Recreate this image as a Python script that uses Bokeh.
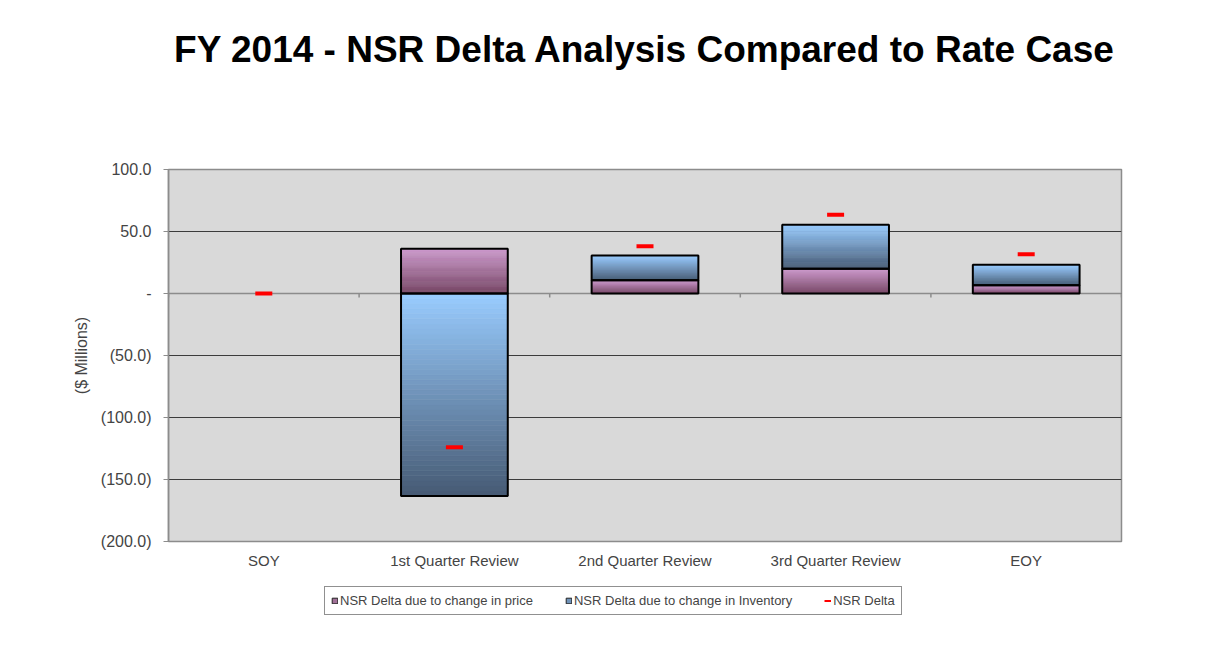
import math
from bokeh.plotting import figure
from bokeh.layouts import column
from bokeh.models import (ColumnDataSource, Range1d, FixedTicker, Span, Label,
                          Legend, LegendItem)
from bokeh.embed import file_html
from bokeh.resources import INLINE

# ---------------- data ----------------
categories = ["SOY", "1st Quarter Review", "2nd Quarter Review", "3rd Quarter Review", "EOY"]
price_delta = [0.0, 36.0, 10.7, 19.9, 6.7]
inventory_delta = [0.0, -163.4, 19.9, 35.5, 16.4]
nsr_delta = [0.0, -124.0, 38.2, 63.5, 31.7]

y_ticks = [-200, -150, -100, -50, 0, 50, 100]
y_tick_labels = ["(200.0)", "(150.0)", "(100.0)", "(50.0)", "-", "50.0", "100.0"]

title_text = "FY 2014 - NSR Delta Analysis Compared to Rate Case"
y_label = "($ Millions)"
series_names = ["NSR Delta due to change in price",
                "NSR Delta due to change in Inventory",
                "NSR Delta"]

# ---------------- style ----------------
FONT = "Liberation Sans"
BAR_WIDTH = 0.56
STEPS = 40
PRICE_TOP, PRICE_BOTTOM = (204, 153, 204), (118, 70, 100)
INV_TOP, INV_BOTTOM = (153, 204, 255), (70, 90, 115)
W = 1201
HEAD_H, MAIN_H, LEG_H = 98, 477, 76

n_cat = len(categories)
cat_pos = [i + 0.5 for i in range(n_cat)]          # category centres on the axis scale
edge_pos = [float(i) for i in range(n_cat + 1)]    # category boundaries


def hexcol(c):
    return "#%02x%02x%02x" % tuple(int(round(v)) for v in c)


def mix(bottom, top, t):
    return tuple(b + (tp - b) * t for b, tp in zip(bottom, top))


def blank_fig(h):
    f = figure(width=W, height=h, x_range=Range1d(0, 1), y_range=Range1d(0, 1),
               output_backend="svg", toolbar_location=None,
               x_axis_location=None, y_axis_location=None,
               min_border=0, min_border_left=0, min_border_right=0,
               min_border_top=0, min_border_bottom=0,
               background_fill_color="white", border_fill_color="white")
    f.outline_line_color = None
    f.grid.visible = False
    return f


# ---------------- title strip ----------------
head = blank_fig(HEAD_H)
head.add_layout(Label(x=0.5, y=0.5, text=title_text, text_align="center",
                      text_baseline="middle", text_font=FONT, text_font_size="37px",
                      text_font_style="bold", text_color="black"))

# ---------------- main chart ----------------
seg_x, seg_lo, seg_hi, seg_kind = [], [], [], []
for xc, pv, iv in zip(cat_pos, price_delta, inventory_delta):
    if pv != 0:
        seg_x.append(xc); seg_lo.append(min(0, pv)); seg_hi.append(max(0, pv)); seg_kind.append("price")
    if iv != 0:
        base = pv if (pv > 0 and iv > 0) or (pv < 0 and iv < 0) else 0.0
        end = base + iv
        seg_x.append(xc); seg_lo.append(min(base, end)); seg_hi.append(max(base, end)); seg_kind.append("inv")

strip = dict(x=[], bottom=[], top=[], color=[])
for xc, lo, hi, kind in zip(seg_x, seg_lo, seg_hi, seg_kind):
    top_c, bot_c = (PRICE_TOP, PRICE_BOTTOM) if kind == "price" else (INV_TOP, INV_BOTTOM)
    for k in range(STEPS):
        b = lo + (hi - lo) * k / STEPS
        t = lo + (hi - lo) * (k + 1) / STEPS
        strip["x"].append(xc)
        strip["bottom"].append(b)
        strip["top"].append(t)
        strip["color"].append(hexcol(mix(bot_c, top_c, (k + 0.5) / STEPS)))

outline = ColumnDataSource(dict(x=seg_x, bottom=seg_lo, top=seg_hi))

p = figure(x_range=Range1d(0, n_cat), y_range=Range1d(-200, 100),
           width=W, height=MAIN_H, output_backend="svg", toolbar_location=None,
           min_border_left=168, min_border_right=80, min_border_top=71, min_border_bottom=34,
           background_fill_color="#D9D9D9", border_fill_color="white")
p.outline_line_color = "#8c8c8c"
p.outline_line_width = 1.5

p.xgrid.visible = False
p.ygrid.ticker = FixedTicker(ticks=y_ticks)
p.ygrid.grid_line_color = "#3c3c3c"
p.ygrid.grid_line_width = 1

p.yaxis.ticker = FixedTicker(ticks=y_ticks)
p.yaxis.major_label_overrides = {t: l for t, l in zip(y_ticks, y_tick_labels)}
p.yaxis.axis_label = y_label
p.yaxis.axis_label_text_font = FONT
p.yaxis.axis_label_text_font_size = "16px"
p.yaxis.axis_label_text_font_style = "normal"
p.yaxis.axis_label_standoff = 8
p.yaxis.major_label_text_font = FONT
p.yaxis.major_label_text_font_size = "16px"
p.yaxis.major_label_standoff = 12
p.yaxis.axis_line_color = "#8c8c8c"
p.yaxis.axis_line_width = 1.5
p.yaxis.major_tick_line_color = "#8c8c8c"
p.yaxis.major_tick_out = 5
p.yaxis.major_tick_in = 0
p.yaxis.minor_tick_line_color = None

p.xaxis.ticker = FixedTicker(ticks=cat_pos)
p.xaxis.major_label_overrides = {x: c for x, c in zip(cat_pos, categories)}
p.xaxis.axis_line_color = None
p.xaxis.major_tick_line_color = None
p.xaxis.major_tick_out = 0
p.xaxis.major_tick_in = 0
p.xaxis.minor_tick_line_color = None
p.xaxis.major_label_text_font = FONT
p.xaxis.major_label_text_font_size = "15px"
p.xaxis.major_label_standoff = 10

# horizontal category axis line crossing at zero, ticks between categories
p.add_layout(Span(location=0, dimension="width", line_color="#8c8c8c", line_width=1.5,
                  level="underlay"))
p.ray(x=edge_pos, y=[0] * len(edge_pos), length=4, length_units="screen",
      angle=-math.pi / 2, line_color="#8c8c8c", line_width=1.5)

# bars with gradient
p.vbar(x="x", bottom="bottom", top="top", width=BAR_WIDTH, fill_color="color",
       line_color="color", line_width=0.6, source=ColumnDataSource(strip))
p.vbar(x="x", bottom="bottom", top="top", width=BAR_WIDTH, fill_color=None,
       line_color="black", line_width=2, source=outline)

# NSR delta markers
p.rect(x=cat_pos, y=nsr_delta, width=17, height=4, width_units="screen",
       height_units="screen", fill_color="#FF0000", line_color=None)

# ---------------- legend strip ----------------
leg = blank_fig(LEG_H)
leg_price = leg.vbar(x=[-10], bottom=[-11], top=[-10], width=1,
                     fill_color=hexcol(mix(PRICE_BOTTOM, PRICE_TOP, 0.5)), line_color="#222222")
leg_inv = leg.vbar(x=[-10], bottom=[-11], top=[-10], width=1,
                   fill_color=hexcol(mix(INV_BOTTOM, INV_TOP, 0.5)), line_color="#222222")
leg_delta = leg.line(x=[-10, -9], y=[-10, -10], line_color="#FF0000", line_width=2)

legend = Legend(items=[LegendItem(label=series_names[0], renderers=[leg_price]),
                       LegendItem(label=series_names[1], renderers=[leg_inv]),
                       LegendItem(label=series_names[2], renderers=[leg_delta])],
                orientation="horizontal", location=(156, 36))
legend.label_text_font = FONT
legend.label_text_font_size = "13px"
legend.label_height = 4
legend.glyph_width = 7
legend.glyph_height = 7
legend.label_standoff = 2
legend.spacing = 32
legend.padding = 6
legend.margin = 0
legend.border_line_color = "#222222"
legend.border_line_width = 1
legend.background_fill_color = "white"
leg.add_layout(legend)

layout = column(head, p, leg, spacing=0)
open("out.html", "w").write(file_html(layout, INLINE))
